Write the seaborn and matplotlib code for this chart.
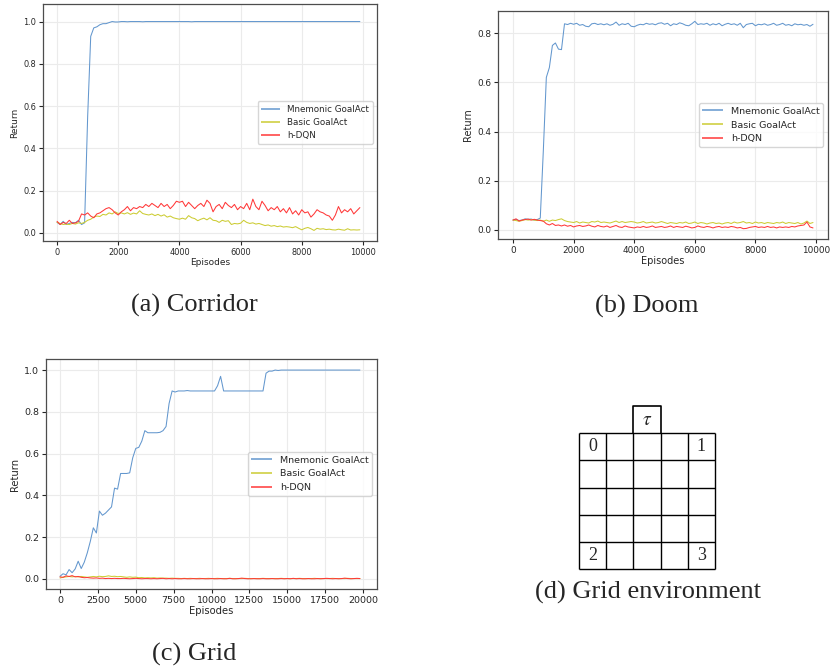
import numpy as np
import pandas as pd
import matplotlib
matplotlib.use("Agg")
import matplotlib.pyplot as plt
from matplotlib.lines import Line2D
import seaborn as sns

# ---------------------------------------------------------------
# DATA
# ---------------------------------------------------------------
methods = ["Mnemonic GoalAct", "Basic GoalAct", "h-DQN"]

episodes_ab = np.arange(0, 10000, 100)
episodes_c = np.arange(0, 20000, 200)

corridor_mnemonic = [
    0.050, 0.040, 0.055, 0.040, 0.045, 0.050, 0.048, 0.060, 0.040, 0.048,
    0.550, 0.930, 0.970, 0.975, 0.985, 0.990, 0.990, 0.995, 1.000, 0.998,
    0.998, 1.000, 1.000, 0.999, 1.000, 1.000, 1.000, 1.000, 0.999, 1.000,
    1.000, 1.000, 1.000, 1.000, 1.000, 1.000, 1.000, 1.000, 1.000, 1.000,
    1.000, 1.000, 1.000, 1.000, 0.999, 1.000, 1.000, 1.000, 1.000, 1.000,
    1.000, 1.000, 1.000, 1.000, 1.000, 1.000, 1.000, 1.000, 1.000, 1.000,
    1.000, 1.000, 1.000, 1.000, 1.000, 1.000, 1.000, 1.000, 1.000, 1.000,
    1.000, 1.000, 1.000, 1.000, 1.000, 1.000, 1.000, 1.000, 1.000, 1.000,
    1.000, 1.000, 1.000, 1.000, 1.000, 1.000, 1.000, 1.000, 1.000, 1.000,
    1.000, 1.000, 1.000, 1.000, 1.000, 1.000, 1.000, 1.000, 1.000, 1.000,
]
corridor_basic = [
    0.050, 0.045, 0.040, 0.042, 0.040, 0.045, 0.042, 0.048, 0.045, 0.050,
    0.060, 0.065, 0.075, 0.080, 0.078, 0.088, 0.085, 0.095, 0.090, 0.100,
    0.092, 0.095, 0.090, 0.096, 0.088, 0.094, 0.090, 0.105, 0.092, 0.088,
    0.085, 0.090, 0.082, 0.088, 0.080, 0.086, 0.075, 0.080, 0.072, 0.068,
    0.065, 0.070, 0.065, 0.082, 0.072, 0.068, 0.058, 0.065, 0.070, 0.062,
    0.072, 0.060, 0.058, 0.050, 0.060, 0.055, 0.058, 0.040, 0.045, 0.043,
    0.046, 0.060, 0.050, 0.045, 0.048, 0.042, 0.045, 0.040, 0.035, 0.038,
    0.032, 0.035, 0.030, 0.033, 0.028, 0.030, 0.028, 0.025, 0.030, 0.022,
    0.015, 0.022, 0.026, 0.020, 0.012, 0.022, 0.018, 0.020, 0.016, 0.018,
    0.015, 0.014, 0.018, 0.015, 0.013, 0.020, 0.014, 0.015, 0.014, 0.015,
]
corridor_hdqn = [
    0.055, 0.040, 0.050, 0.045, 0.060, 0.045, 0.048, 0.055, 0.090, 0.085,
    0.095, 0.080, 0.072, 0.090, 0.095, 0.105, 0.115, 0.120, 0.110, 0.095,
    0.085, 0.100, 0.110, 0.125, 0.105, 0.120, 0.115, 0.125, 0.120, 0.135,
    0.125, 0.140, 0.130, 0.120, 0.140, 0.125, 0.135, 0.115, 0.130, 0.150,
    0.145, 0.150, 0.125, 0.145, 0.130, 0.115, 0.130, 0.140, 0.125, 0.155,
    0.140, 0.100, 0.125, 0.135, 0.115, 0.145, 0.130, 0.120, 0.135, 0.110,
    0.125, 0.115, 0.140, 0.110, 0.160, 0.125, 0.110, 0.150, 0.130, 0.105,
    0.120, 0.110, 0.125, 0.100, 0.115, 0.095, 0.120, 0.090, 0.105, 0.085,
    0.110, 0.095, 0.100, 0.075, 0.090, 0.110, 0.100, 0.095, 0.085, 0.080,
    0.060, 0.085, 0.125, 0.095, 0.110, 0.100, 0.115, 0.090, 0.105, 0.120,
]

doom_mnemonic = [
    0.040, 0.042, 0.038, 0.040, 0.045, 0.043, 0.044, 0.040, 0.042, 0.048,
    0.320, 0.620, 0.660, 0.750, 0.760, 0.735, 0.733, 0.838, 0.835, 0.840,
    0.836, 0.840, 0.832, 0.835, 0.828, 0.826, 0.838, 0.840, 0.835, 0.838,
    0.834, 0.838, 0.832, 0.836, 0.845, 0.832, 0.838, 0.835, 0.840, 0.828,
    0.826, 0.832, 0.836, 0.834, 0.840, 0.836, 0.838, 0.834, 0.840, 0.842,
    0.836, 0.840, 0.830, 0.838, 0.835, 0.842, 0.838, 0.832, 0.830, 0.838,
    0.848, 0.835, 0.838, 0.836, 0.840, 0.832, 0.838, 0.834, 0.840, 0.830,
    0.836, 0.840, 0.835, 0.838, 0.832, 0.840, 0.822, 0.835, 0.838, 0.840,
    0.830, 0.836, 0.834, 0.838, 0.832, 0.835, 0.840, 0.832, 0.835, 0.840,
    0.832, 0.835, 0.830, 0.838, 0.834, 0.836, 0.832, 0.835, 0.828, 0.836,
]
doom_basic = [
    0.040, 0.038, 0.035, 0.038, 0.042, 0.040, 0.042, 0.040, 0.038, 0.040,
    0.035, 0.040, 0.035, 0.040, 0.038, 0.042, 0.045, 0.038, 0.034, 0.032,
    0.030, 0.034, 0.028, 0.032, 0.030, 0.028, 0.034, 0.032, 0.036, 0.030,
    0.032, 0.030, 0.028, 0.032, 0.036, 0.030, 0.034, 0.030, 0.032, 0.034,
    0.032, 0.028, 0.030, 0.034, 0.028, 0.030, 0.032, 0.028, 0.030, 0.034,
    0.030, 0.026, 0.030, 0.028, 0.026, 0.030, 0.028, 0.032, 0.026, 0.028,
    0.032, 0.026, 0.030, 0.028, 0.024, 0.028, 0.030, 0.026, 0.028, 0.024,
    0.028, 0.030, 0.026, 0.032, 0.028, 0.030, 0.034, 0.028, 0.030, 0.026,
    0.032, 0.028, 0.030, 0.026, 0.030, 0.028, 0.026, 0.030, 0.028, 0.032,
    0.026, 0.030, 0.028, 0.026, 0.030, 0.024, 0.028, 0.036, 0.026, 0.030,
]
doom_hdqn = [
    0.040, 0.045, 0.036, 0.040, 0.042, 0.044, 0.040, 0.043, 0.040, 0.038,
    0.036, 0.025, 0.020, 0.026, 0.018, 0.020, 0.016, 0.020, 0.015, 0.018,
    0.012, 0.016, 0.018, 0.014, 0.016, 0.020, 0.015, 0.012, 0.018, 0.014,
    0.012, 0.016, 0.010, 0.014, 0.018, 0.012, 0.010, 0.016, 0.012, 0.010,
    0.008, 0.012, 0.010, 0.014, 0.010, 0.012, 0.016, 0.010, 0.012, 0.014,
    0.010, 0.012, 0.016, 0.010, 0.014, 0.012, 0.010, 0.015, 0.012, 0.008,
    0.010, 0.016, 0.012, 0.010, 0.014, 0.012, 0.008, 0.012, 0.014, 0.010,
    0.012, 0.010, 0.014, 0.012, 0.008, 0.010, 0.005, 0.006, 0.010, 0.012,
    0.014, 0.010, 0.012, 0.010, 0.014, 0.010, 0.012, 0.008, 0.012, 0.010,
    0.012, 0.010, 0.014, 0.012, 0.016, 0.018, 0.020, 0.032, 0.012, 0.008,
]

grid_mnemonic = [
    0.013, 0.025, 0.020, 0.045, 0.030, 0.048, 0.085, 0.050, 0.080, 0.125,
    0.180, 0.245, 0.220, 0.325, 0.305, 0.315, 0.330, 0.345, 0.435, 0.430,
    0.505, 0.505, 0.505, 0.508, 0.580, 0.625, 0.630, 0.660, 0.710, 0.700,
    0.700, 0.700, 0.700, 0.702, 0.710, 0.730, 0.840, 0.900, 0.895, 0.900,
    0.900, 0.900, 0.902, 0.900, 0.900, 0.900, 0.900, 0.900, 0.900, 0.900,
    0.900, 0.900, 0.925, 0.970, 0.900, 0.900, 0.900, 0.900, 0.900, 0.900,
    0.900, 0.900, 0.900, 0.900, 0.900, 0.900, 0.900, 0.900, 0.985, 0.995,
    0.995, 1.000, 0.998, 1.000, 1.000, 1.000, 1.000, 1.000, 1.000, 1.000,
    1.000, 1.000, 1.000, 1.000, 1.000, 1.000, 1.000, 1.000, 1.000, 1.000,
    1.000, 1.000, 1.000, 1.000, 1.000, 1.000, 1.000, 1.000, 1.000, 1.000,
]
grid_basic = [
    0.005, 0.008, 0.010, 0.012, 0.010, 0.012, 0.010, 0.012, 0.010, 0.008,
    0.010, 0.012, 0.010, 0.013, 0.011, 0.012, 0.015, 0.012, 0.013, 0.011,
    0.012, 0.010, 0.008, 0.010, 0.008, 0.009, 0.006, 0.007, 0.005, 0.006,
    0.005, 0.006, 0.004, 0.005, 0.004, 0.004, 0.003, 0.004, 0.003, 0.003,
    0.002, 0.003, 0.002, 0.003, 0.002, 0.002, 0.003, 0.002, 0.002, 0.003,
    0.002, 0.002, 0.003, 0.002, 0.002, 0.002, 0.003, 0.002, 0.002, 0.002,
    0.002, 0.003, 0.002, 0.002, 0.002, 0.002, 0.002, 0.003, 0.002, 0.002,
    0.002, 0.002, 0.002, 0.003, 0.002, 0.002, 0.002, 0.002, 0.002, 0.003,
    0.002, 0.002, 0.002, 0.002, 0.003, 0.002, 0.002, 0.002, 0.002, 0.002,
    0.003, 0.002, 0.002, 0.002, 0.002, 0.003, 0.002, 0.002, 0.002, 0.002,
]
grid_hdqn = [
    0.010, 0.008, 0.015, 0.012, 0.016, 0.010, 0.012, 0.008, 0.006, 0.007,
    0.005, 0.004, 0.005, 0.003, 0.004, 0.002, 0.003, 0.002, 0.003, 0.002,
    0.002, 0.003, 0.002, 0.001, 0.002, 0.003, 0.002, 0.001, 0.002, 0.002,
    0.001, 0.002, 0.001, 0.002, 0.003, 0.001, 0.002, 0.001, 0.002, 0.001,
    0.001, 0.002, 0.001, 0.001, 0.002, 0.001, 0.001, 0.002, 0.001, 0.001,
    0.002, 0.001, 0.001, 0.002, 0.001, 0.001, 0.003, 0.001, 0.001, 0.002,
    0.004, 0.002, 0.001, 0.001, 0.002, 0.001, 0.001, 0.002, 0.001, 0.001,
    0.002, 0.001, 0.001, 0.002, 0.001, 0.002, 0.001, 0.003, 0.001, 0.002,
    0.001, 0.001, 0.002, 0.001, 0.001, 0.002, 0.001, 0.002, 0.003, 0.002,
    0.001, 0.002, 0.001, 0.002, 0.004, 0.002, 0.001, 0.002, 0.003, 0.002,
]

captions = ["(a) Corridor", "(b) Doom", "(c) Grid", "(d) Grid environment"]

# grid environment: 5x5 cells, goal cell above the middle column
grid_n = 5
corner_labels = ["0", "1", "2", "3"]
corner_cells = [(0, 4), (4, 4), (0, 0), (4, 0)]
goal_label = r"$\tau$"
goal_column = 2

# ---------------------------------------------------------------
# STYLE
# ---------------------------------------------------------------
sns.set_style("whitegrid", {
    "axes.edgecolor": "0.3",
    "grid.color": "0.92",
    "xtick.bottom": True,
    "ytick.left": True,
    "xtick.color": "0.15",
    "ytick.color": "0.15",
})
plt.rcParams["font.family"] = ["DejaVu Sans"]
plt.rcParams["xtick.major.size"] = 3
plt.rcParams["ytick.major.size"] = 3
plt.rcParams["xtick.major.width"] = 0.8
plt.rcParams["ytick.major.width"] = 0.8
plt.rcParams["axes.linewidth"] = 0.9
plt.rcParams["grid.linewidth"] = 0.8
plt.rcParams["mathtext.fontset"] = "stix"

colors = {"Mnemonic GoalAct": "#6397ce", "Basic GoalAct": "#cccc33", "h-DQN": "#ff3838"}
line_width = 0.75

W, H = 831, 667
fig = plt.figure(figsize=(W / 100, H / 100), dpi=100)


def px_axes(left, top, right, bottom):
    return fig.add_axes([left / W, (H - bottom) / H, (right - left) / W, (bottom - top) / H])


def draw_panel(ax, episodes, series, xlim, ylim, xticks, yticks, fs_tick, fs_label, fs_legend):
    for name, values in zip(methods, series):
        df = pd.DataFrame({"episode": episodes, "ret": values})
        sns.lineplot(data=df, x="episode", y="ret", ax=ax, color=colors[name],
                     lw=line_width, estimator=None, legend=False)
    ax.set_xlim(xlim)
    ax.set_ylim(ylim)
    ax.set_xticks(xticks)
    ax.set_yticks(yticks)
    ax.set_xlabel("Episodes", fontsize=fs_label, labelpad=1)
    ax.set_ylabel("Return", fontsize=fs_label, labelpad=3)
    ax.tick_params(labelsize=fs_tick, pad=2)
    handles = [Line2D([], [], color=colors[name], lw=1.1, solid_capstyle="butt")
               for name in methods]
    ax.legend(handles=handles, labels=methods, loc="center right", fontsize=fs_legend,
              frameon=True, borderaxespad=0.5, handlelength=2.2)


# (a) Corridor
ax_a = px_axes(43, 4, 377, 241)
draw_panel(ax_a, episodes_ab, [corridor_mnemonic, corridor_basic, corridor_hdqn],
           (-460, 10460), (-0.038, 1.083), range(0, 10001, 2000),
           [0.0, 0.2, 0.4, 0.6, 0.8, 1.0], 5.9, 6.5, 6.3)

# (b) Doom
ax_b = px_axes(498, 11, 828, 239)
draw_panel(ax_b, episodes_ab, [doom_mnemonic, doom_basic, doom_hdqn],
           (-495, 10395), (-0.037, 0.89), range(0, 10001, 2000),
           [0.0, 0.2, 0.4, 0.6, 0.8], 6.4, 7.0, 6.8)

# (c) Grid
ax_c = px_axes(46, 359, 377, 589)
draw_panel(ax_c, episodes_c, [grid_mnemonic, grid_basic, grid_hdqn],
           (-925, 20925), (-0.048, 1.053), range(0, 20001, 2500),
           [0.0, 0.2, 0.4, 0.6, 0.8, 1.0], 6.8, 7.2, 6.8)

# (d) Grid environment
ax_d = px_axes(579, 406, 715, 569)
ax_d.set_xlim(0, grid_n)
ax_d.set_ylim(0, grid_n + 1)
ax_d.axis("off")
for k in range(grid_n + 1):
    ax_d.hlines(k, 0, grid_n, color="black", lw=1.0, clip_on=False)
    ax_d.vlines(k, 0, grid_n, color="black", lw=1.0, clip_on=False)
ax_d.plot([goal_column, goal_column, goal_column + 1, goal_column + 1],
          [grid_n, grid_n + 1, grid_n + 1, grid_n], color="black", lw=1.2, clip_on=False)
ax_d.text(goal_column + 0.5, grid_n + 0.5, goal_label, ha="center", va="center", fontsize=14)
for label, (cx, cy) in zip(corner_labels, corner_cells):
    ax_d.text(cx + 0.5, cy + 0.5, label, ha="center", va="center",
              fontsize=13, family="Liberation Serif")

# captions
caption_pos = [(194.5, 305), (646.5, 306), (194.5, 654), (648, 592)]
for text, (cx, cy) in zip(captions, caption_pos):
    fig.text(cx / W, 1 - cy / H, text, ha="center", va="center",
             fontsize=19, family="Liberation Serif")

fig.savefig("out.png", dpi=100)
